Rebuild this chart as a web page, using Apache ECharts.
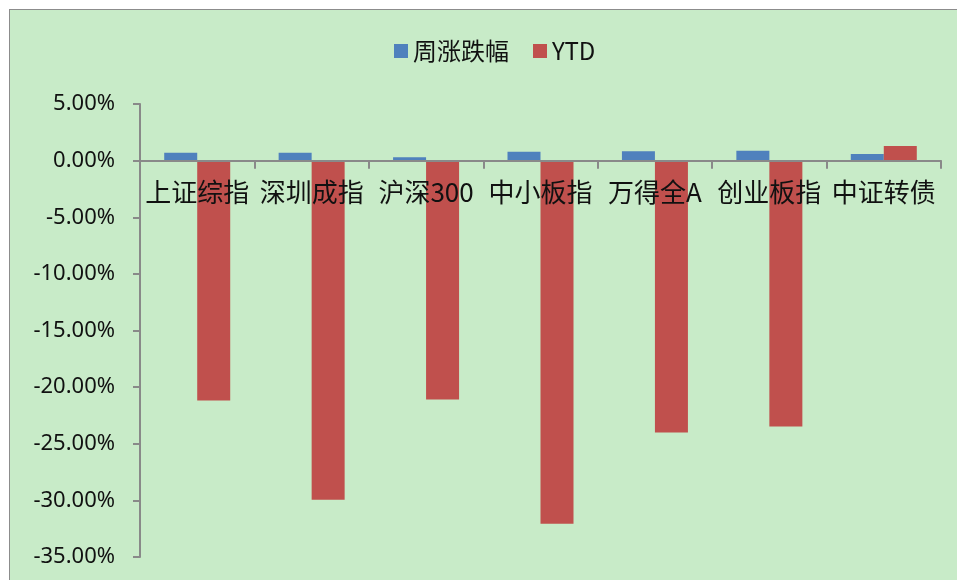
<!DOCTYPE html>
<html>
<head>
<meta charset="utf-8">
<script src="https://cdn.jsdelivr.net/npm/echarts@6/dist/echarts.min.js"></script>
<style>
  html, body { margin: 0; padding: 0; background: #ffffff; overflow: hidden; }
  #frame { position: absolute; left: 9px; top: 9px; width: 970px; height: 600px;
           background: #c8ebc8; border: 1.5px solid #8c8c8c; box-sizing: border-box; }
  #chart { position: absolute; left: 0; top: 0; width: 957px; height: 580px; }
</style>
</head>
<body>
<div id="frame"></div>
<div id="chart"></div>
<script>
const categories = ['上证综指', '深圳成指', '沪深300', '中小板指', '万得全A', '创业板指', '中证转债'];
const weeklyChange = [0.70, 0.70, 0.29, 0.79, 0.82, 0.87, 0.58];
const ytdChange = [-21.19, -29.95, -21.10, -32.07, -24.00, -23.48, 1.29];
const seriesNames = ['周涨跌幅', 'YTD'];

const gridTop = 104, gridBottom = 23, chartH = 580;
const yMin = -35, yMax = 5;
const plotH = chartH - gridTop - gridBottom;
// place x axis (line, ticks, labels) at the zero level of the value axis
const zeroOffset = -plotH * (0 - yMin) / (yMax - yMin);

const chart = echarts.init(document.getElementById('chart'), null, { renderer: 'canvas' });
chart.setOption({
  backgroundColor: 'transparent',
  animation: false,
  legend: {
    left: 389, top: 34,
    itemWidth: 14, itemHeight: 14, itemGap: 24,
    icon: 'rect',
    textStyle: { fontSize: 24, color: '#111', fontFamily: 'Noto Sans CJK SC' },
    data: seriesNames
  },
  grid: { left: 140, right: 16, top: gridTop, bottom: gridBottom, outerBoundsMode: 'none', containLabel: false },
  xAxis: {
    type: 'category',
    data: categories,
    position: 'bottom',
    offset: zeroOffset,
    z: 5,
    axisLine: { onZero: false, lineStyle: { color: '#898989', width: 2 } },
    axisTick: { show: true, length: 8, lineStyle: { color: '#898989', width: 2 } },
    axisLabel: { margin: 18, fontSize: 26, color: '#111', fontFamily: 'Noto Sans CJK SC', interval: 0 }
  },
  yAxis: {
    type: 'value',
    min: yMin, max: yMax, interval: 5,
    axisLine: { show: true, lineStyle: { color: '#898989', width: 2 } },
    axisTick: { show: true, length: 7, lineStyle: { color: '#898989', width: 2 } },
    splitLine: { show: false },
    axisLabel: {
      margin: 25, fontSize: 22, color: '#111', fontFamily: 'Noto Sans',
      formatter: v => v.toFixed(2) + '%'
    }
  },
  series: [
    { name: seriesNames[0], type: 'bar', data: weeklyChange, barWidth: 33, barGap: '0%',
      itemStyle: { color: '#4f81bd' } },
    { name: seriesNames[1], type: 'bar', data: ytdChange, barWidth: 33, barGap: '0%',
      itemStyle: { color: '#c0504d' } }
  ]
});
</script>
</body>
</html>
